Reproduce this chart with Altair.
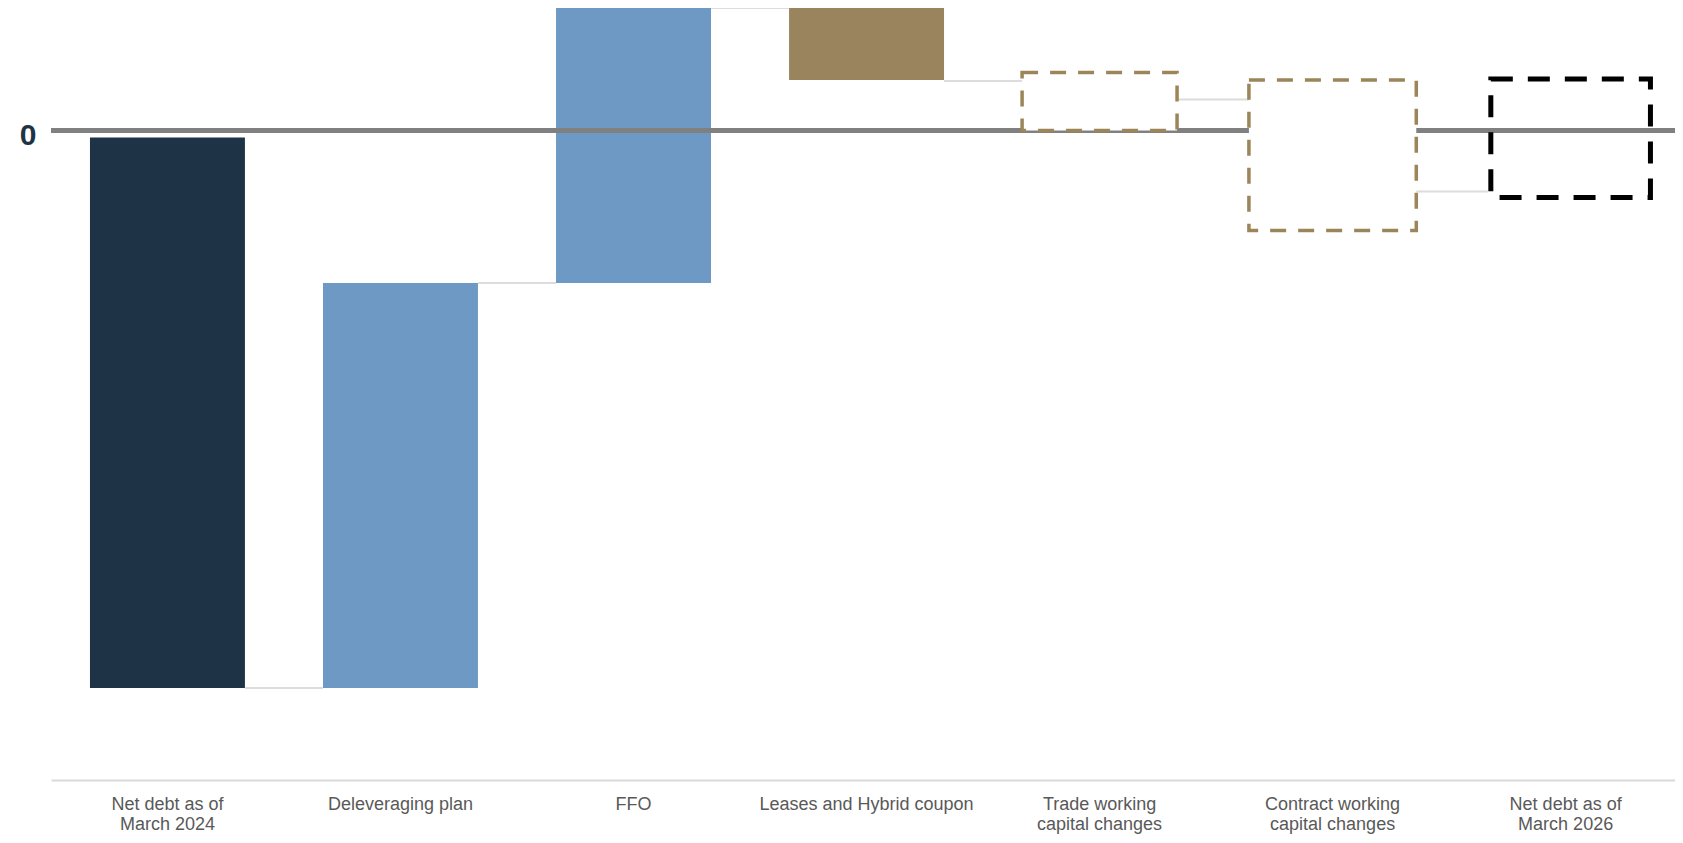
import altair as alt
import pandas as pd

# ---- data (arbitrary units, 0 = zero line) ----
categories = [
    "Net debt as of\nMarch 2024",
    "Deleveraging plan",
    "FFO",
    "Leases and Hybrid coupon",
    "Trade working\ncapital changes",
    "Contract working\ncapital changes",
    "Net debt as of\nMarch 2026",
]
bar_start = [-0.07, -5.575, -1.525, 1.225, 0.58, 0.505, 0.515]
bar_end = [-5.575, -1.525, 1.225, 0.505, 0.0, -1.0, -0.67]
bar_kind = [
    "Opening net debt",
    "Debt reduction",
    "Debt reduction",
    "Debt increase",
    "Estimate",
    "Estimate",
    "Closing net debt",
]
connector_from = categories[:-1]
connector_to = categories[1:]
connector_level = [-5.575, -1.525, 1.225, 0.495, 0.31, -0.61]
zero_value = [0]

solid_kinds = ["Opening net debt", "Debt reduction", "Debt increase"]
solid_colors = ["#1F3347", "#6E99C4", "#9A845E"]

bars_df = pd.DataFrame({"category": categories, "start": bar_start,
                        "end": bar_end, "kind": bar_kind})
conn_df = pd.DataFrame({"from": connector_from, "to": connector_to,
                        "level": connector_level})
zero_df = pd.DataFrame({"v": zero_value})

FONT = "Liberation Sans"

x_scale = alt.Scale(domain=categories, paddingInner=0.335, paddingOuter=0.152, align=0.55)
x_axis = alt.Axis(
    title=None,
    labelExpr="split(datum.label, '\\n')",
    labelAngle=0,
    labelFont=FONT,
    labelFontSize=18,
    labelColor="#595959",
    labelLineHeight=20,
    labelPadding=15,
    labelBaseline="top",
    labelLimit=0,
    ticks=False,
    domainColor="#D9D9D9",
    domainWidth=2,
    grid=False,
)
y_scale = alt.Scale(domain=[-6.495, 1.225], nice=False, zero=False)
y_axis = alt.Axis(
    title=None,
    values=[0],
    labelFont=FONT,
    labelFontSize=30,
    labelFontWeight="bold",
    labelColor="#1F3347",
    labelPadding=15,
    labelOffset=5,
    domain=False,
    ticks=False,
    grid=False,
)

x_enc = alt.X("category:N", sort=categories, scale=x_scale, axis=x_axis)
y_enc = alt.Y("start:Q", scale=y_scale, axis=y_axis)

solid = (
    alt.Chart(bars_df)
    .transform_filter(alt.FieldOneOfPredicate(field="kind", oneOf=solid_kinds))
    .mark_bar()
    .encode(
        x=x_enc,
        y=y_enc,
        y2="end:Q",
        color=alt.Color("kind:N", scale=alt.Scale(domain=solid_kinds, range=solid_colors), legend=None),
    )
)

connectors = (
    alt.Chart(conn_df)
    .mark_rule(color="#DCDCDC", strokeWidth=2)
    .encode(
        x=alt.X("from:N", sort=categories, scale=x_scale, axis=x_axis, bandPosition=1),
        x2=alt.X2("to:N", bandPosition=0),
        y=alt.Y("level:Q", scale=y_scale, axis=y_axis),
    )
)

zero_line = (
    alt.Chart(zero_df)
    .mark_rule(color="#808080", strokeWidth=5)
    .encode(y=alt.Y("v:Q", scale=y_scale, axis=y_axis))
)

tan_style = dict(fill="white", stroke="#9C8559", strokeWidth=3.5, strokeDash=[16, 12])

trade_box = (
    alt.Chart(bars_df)
    .transform_filter(alt.datum.category == categories[4])
    .mark_bar(**tan_style)
    .encode(x=x_enc, y=y_enc, y2="end:Q")
)

contract_box = (
    alt.Chart(bars_df)
    .transform_filter(alt.datum.category == categories[5])
    .mark_bar(width={"band": 1.08}, **tan_style)
    .encode(x=x_enc, y=y_enc, y2="end:Q")
)

black_box = (
    alt.Chart(bars_df)
    .transform_filter(alt.datum.kind == "Closing net debt")
    .mark_bar(fill="white", fillOpacity=0, stroke="#000000", strokeWidth=5,
              strokeDash=[22, 15], width={"band": 1.03}, xOffset=5)
    .encode(x=x_enc, y=y_enc, y2="end:Q")
)

chart = (
    alt.layer(solid, connectors, zero_line, trade_box, contract_box, black_box)
    .properties(
        width=1624,
        height=772,
        autosize=alt.AutoSizeParams(type="none"),
        padding={"left": 43, "top": 0, "right": 0, "bottom": 55},
        background="white",
    )
    .configure_view(strokeWidth=0)
)

chart.save("out.html", embed_options={"renderer": "svg", "actions": False})
